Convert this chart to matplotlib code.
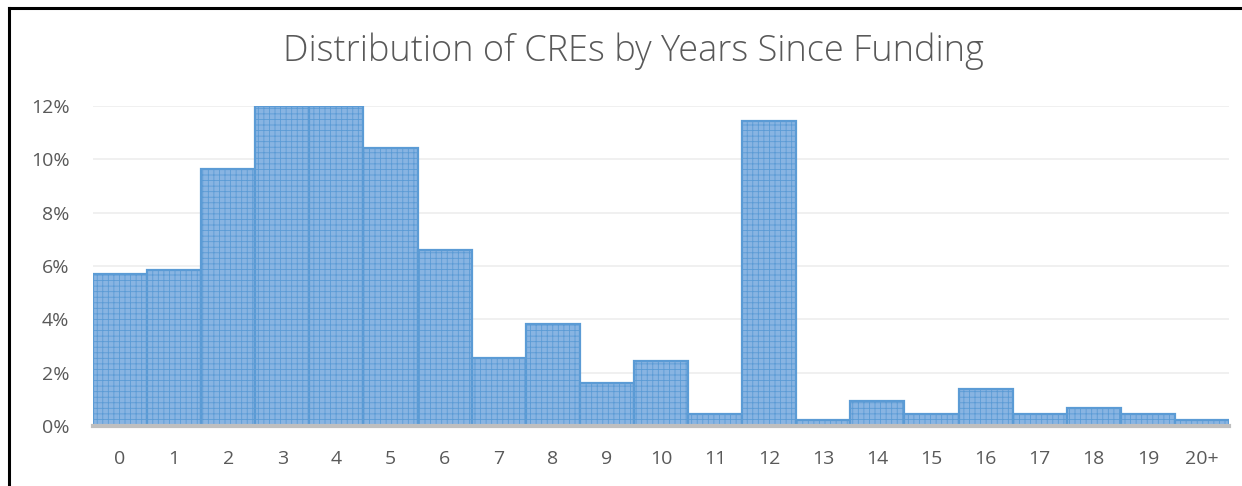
import matplotlib
matplotlib.use("Agg")
import matplotlib.pyplot as plt
from matplotlib.lines import Line2D

categories = ["0", "1", "2", "3", "4", "5", "6", "7", "8", "9", "10",
              "11", "12", "13", "14", "15", "16", "17", "18", "19", "20+"]
shares = [5.7, 5.84, 9.63, 12.0, 12.0, 10.44, 6.6, 2.55, 3.83, 1.62, 2.44,
          0.45, 11.44, 0.22, 0.94, 0.45, 1.4, 0.45, 0.69, 0.45, 0.22]
y_ticks = [0, 2, 4, 6, 8, 10, 12]
y_tick_labels = ["0%", "2%", "4%", "6%", "8%", "10%", "12%"]
title = "Distribution of CREs by Years Since Funding"

plt.rcParams['font.family'] = ['Open Sans', 'DejaVu Sans']
plt.rcParams['hatch.color'] = '#BCD5F0'
plt.rcParams['hatch.linewidth'] = 0.6

W, H = 1242, 486
fig = plt.figure(figsize=(W / 100, H / 100), dpi=100)
ax = fig.add_axes([93 / W, 1 - 426 / H, (1229 - 93) / W, (426 - 106) / H])

x = list(range(len(categories)))
ax.bar(x, shares, width=1.0, color='#88B4E2', edgecolor='#5B9BD5',
       linewidth=1.6, hatch='+++', zorder=3)

ax.set_xlim(-0.5, len(categories) - 0.5)
ax.set_ylim(0, 12)
ax.set_yticks(y_ticks)
ax.set_yticklabels(y_tick_labels)
ax.set_xticks(x)
ax.set_xticklabels(categories)
ax.tick_params(axis='both', length=0, labelsize=14, colors='#595959')
ax.tick_params(axis='y', pad=17)
ax.tick_params(axis='x', pad=17)
ax.grid(axis='y', color='#EDEDED', linewidth=1.2, zorder=0)
for s in ['top', 'right', 'left']:
    ax.spines[s].set_visible(False)
ax.spines['bottom'].set_color('#BFBFBF')
ax.spines['bottom'].set_linewidth(3)
ax.spines['bottom'].set_zorder(4)

fig.text(633 / W, 1 - 51 / H, title, ha='center', va='center',
         fontsize=26, color='#595959', fontweight='light')

# outer frame lines (top and left)
fig.add_artist(Line2D([9 / W, 1], [1 - 8 / H, 1 - 8 / H], color='black',
                      linewidth=2.2, transform=fig.transFigure))
fig.add_artist(Line2D([9 / W, 9 / W], [0, 1 - 8 / H], color='black',
                      linewidth=2.2, transform=fig.transFigure))

fig.savefig("out.png", dpi=100)
